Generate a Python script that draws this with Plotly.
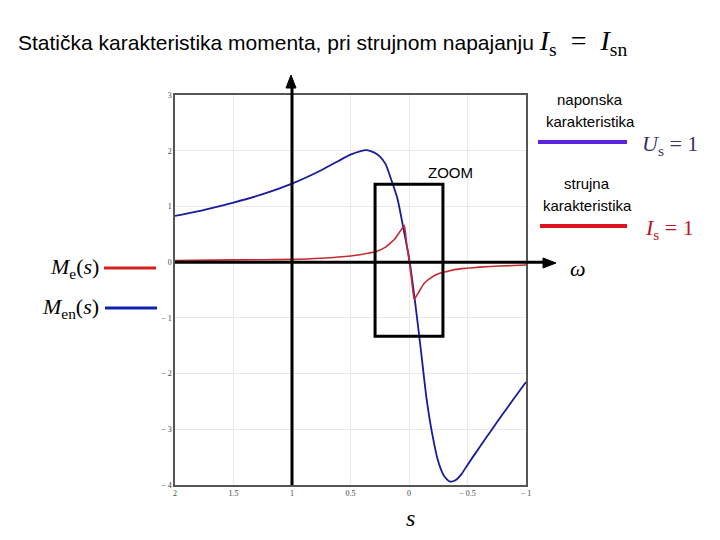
import plotly.graph_objects as go

# ---- data ----
s_blue = [2.0, 1.75, 1.5, 1.25, 1.0, 0.75, 0.6, 0.5, 0.42, 0.36, 0.3, 0.25, 0.2, 0.15, 0.1, 0.05, 0.0,
          -0.05, -0.1, -0.15, -0.2, -0.25, -0.3, -0.35, -0.4, -0.45, -0.5, -0.6, -0.7, -0.8, -0.9, -1.0]
m_blue = [0.83, 0.94, 1.07, 1.22, 1.41, 1.65, 1.82, 1.93, 1.99, 2.01, 1.97, 1.9, 1.76, 1.47, 1.15, 0.63, 0.08,
          -0.68, -1.55, -2.45, -3.1, -3.58, -3.84, -3.94, -3.91, -3.8, -3.64, -3.33, -3.03, -2.73, -2.44, -2.15]

s_red = [2.0, 1.5, 1.0, 0.75, 0.5, 0.35, 0.28, 0.2, 0.16, 0.12, 0.08, 0.06, 0.04, 0.02, 0.0,
         -0.02, -0.045, -0.06, -0.094, -0.13, -0.18, -0.25, -0.32, -0.4, -0.49, -0.6, -0.78, -1.0]
m_red = [0.03, 0.04, 0.05, 0.07, 0.11, 0.16, 0.19, 0.27, 0.34, 0.42, 0.54, 0.6, 0.66, 0.32, 0.05,
         -0.27, -0.67, -0.62, -0.5, -0.38, -0.29, -0.21, -0.17, -0.13, -0.11, -0.09, -0.07, -0.05]

x_ticks = [2, 1.5, 1, 0.5, 0, -0.5, -1]
x_tick_text = ["2", "1.5", "1", "0.5", "0", "− 0.5", "− 1"]
y_ticks = [3, 2, 1, 0, -1, -2, -3, -4]
y_tick_text = ["3", "2", "1", "0", "− 1", "− 2", "− 3", "− 4"]

zoom_box_s = [0.29, -0.29]
zoom_box_m = [1.4, -1.33]

# ---- layout geometry (screen pixels; page body has an 8px margin) ----
OFF = 8
W, H = 720 - OFF, 540 - OFF
PL, PR, PT, PB = 175, 526, 95, 485


def px(x):
    return (x - PL) / (PR - PL)


def py(y):
    return (PB - y) / (PB - PT)


BLUE = "#1a1a9c"
RED = "#c42a2e"

fig = go.Figure()
fig.add_trace(go.Scatter(x=s_blue, y=m_blue, mode="lines", line=dict(color=BLUE, width=1.8, shape="spline", smoothing=0.6),
                         hoverinfo="skip", showlegend=False))
fig.add_trace(go.Scatter(x=s_red, y=m_red, mode="lines", line=dict(color=RED, width=1.6, shape="spline", smoothing=0.5),
                         hoverinfo="skip", showlegend=False))

fig.update_layout(
    width=W, height=H,
    margin=dict(l=PL - OFF, r=720 - PR, t=PT - OFF, b=540 - PB, pad=0),
    paper_bgcolor="white", plot_bgcolor="white",
    showlegend=False,
    xaxis=dict(range=[2, -1], tickvals=x_ticks, ticktext=x_tick_text, showgrid=True, gridcolor="#e9e9e9",
               gridwidth=1, zeroline=False, showline=True, linecolor="#555", linewidth=1.5, mirror=True,
               ticks="", tickfont=dict(family="Liberation Serif", size=8, color="#444")),
    yaxis=dict(range=[-4, 3], tickvals=y_ticks, ticktext=y_tick_text, showgrid=True, gridcolor="#e9e9e9",
               gridwidth=1, zeroline=False, showline=True, linecolor="#555", linewidth=1.5, mirror=True,
               ticks="", tickfont=dict(family="Liberation Serif", size=8, color="#444")),
)

# zoom box
fig.add_shape(type="rect", xref="x", yref="y", x0=zoom_box_s[0], x1=zoom_box_s[1], y0=zoom_box_m[0], y1=zoom_box_m[1],
              line=dict(color="black", width=3))

# axes (s = 1 vertical, M = 0 horizontal) with arrowheads
fig.add_shape(type="line", xref="x", yref="paper", x0=1, x1=1, y0=0, y1=py(84),
              line=dict(color="black", width=3))
fig.add_shape(type="line", xref="paper", yref="y", x0=0, x1=px(546), y0=0, y1=0,
              line=dict(color="black", width=3))


def tri_up(xp, yp):
    dx, dy = 5 / (PR - PL), 13 / (PB - PT)
    return f"M {xp - dx},{yp - dy} L {xp},{yp} L {xp + dx},{yp - dy} Z"


def tri_right(xp, yp):
    dx, dy = 13 / (PR - PL), 5 / (PB - PT)
    return f"M {xp - dx},{yp - dy} L {xp},{yp} L {xp - dx},{yp + dy} Z"


fig.add_shape(type="path", xref="paper", yref="paper", path=tri_up(px(291), py(75)),
              fillcolor="black", line=dict(color="black", width=1))
fig.add_shape(type="path", xref="paper", yref="paper", path=tri_right(px(556), py(263)),
              fillcolor="black", line=dict(color="black", width=1))


# legend-like line segments
def seg(x0, x1, y, color, width=3):
    fig.add_shape(type="line", xref="paper", yref="paper", x0=px(x0), x1=px(x1), y0=py(y), y1=py(y),
                  line=dict(color=color, width=width))


seg(104, 156, 268, "#d42020")
seg(105, 157, 308, "#1020b0")
seg(538, 627, 142, "#5a24e0", 4)
seg(540, 627, 226, "#e0141e", 4)


def txt(x, y, text, size=15, family="Liberation Sans", color="black", xanchor="center"):
    fig.add_annotation(xref="paper", yref="paper", x=px(x), y=py(y), text=text, showarrow=False,
                       xanchor=xanchor, yanchor="middle", font=dict(family=family, size=size, color=color))


SERIF = "Liberation Serif"
txt(16, 42, "Statička karakteristika momenta, pri strujnom napajanju "
    "<span style='font-family:Liberation Serif;font-size:28px'><i>I</i><sub>s</sub>&nbsp;&nbsp;=&nbsp;&nbsp;<i>I</i><sub>sn</sub></span>",
    size=21, xanchor="left")
txt(590, 100, "naponska", size=15)
txt(590, 122, "karakteristika", size=15)
txt(587, 183, "strujna", size=15)
txt(587, 205, "karakteristika", size=15)
txt(450, 172, "ZOOM", size=15)
txt(640, 145, "<i>U</i><sub>s</sub> = 1", size=22, family=SERIF, color="#3a3070", xanchor="left")
txt(643, 229, "<i>I</i><sub>s</sub> = 1", size=22, family=SERIF, color="#c0141e", xanchor="left")
txt(101, 268, "<i>M</i><sub>e</sub>(<i>s</i>)", size=22, family=SERIF, xanchor="right")
txt(101, 308, "<i>M</i><sub>en</sub>(<i>s</i>)", size=22, family=SERIF, xanchor="right")
txt(578, 268, "<i>ω</i>", size=22, family=SERIF)
txt(410, 518, "<i>s</i>", size=24, family=SERIF)

fig.write_html("out.html")
